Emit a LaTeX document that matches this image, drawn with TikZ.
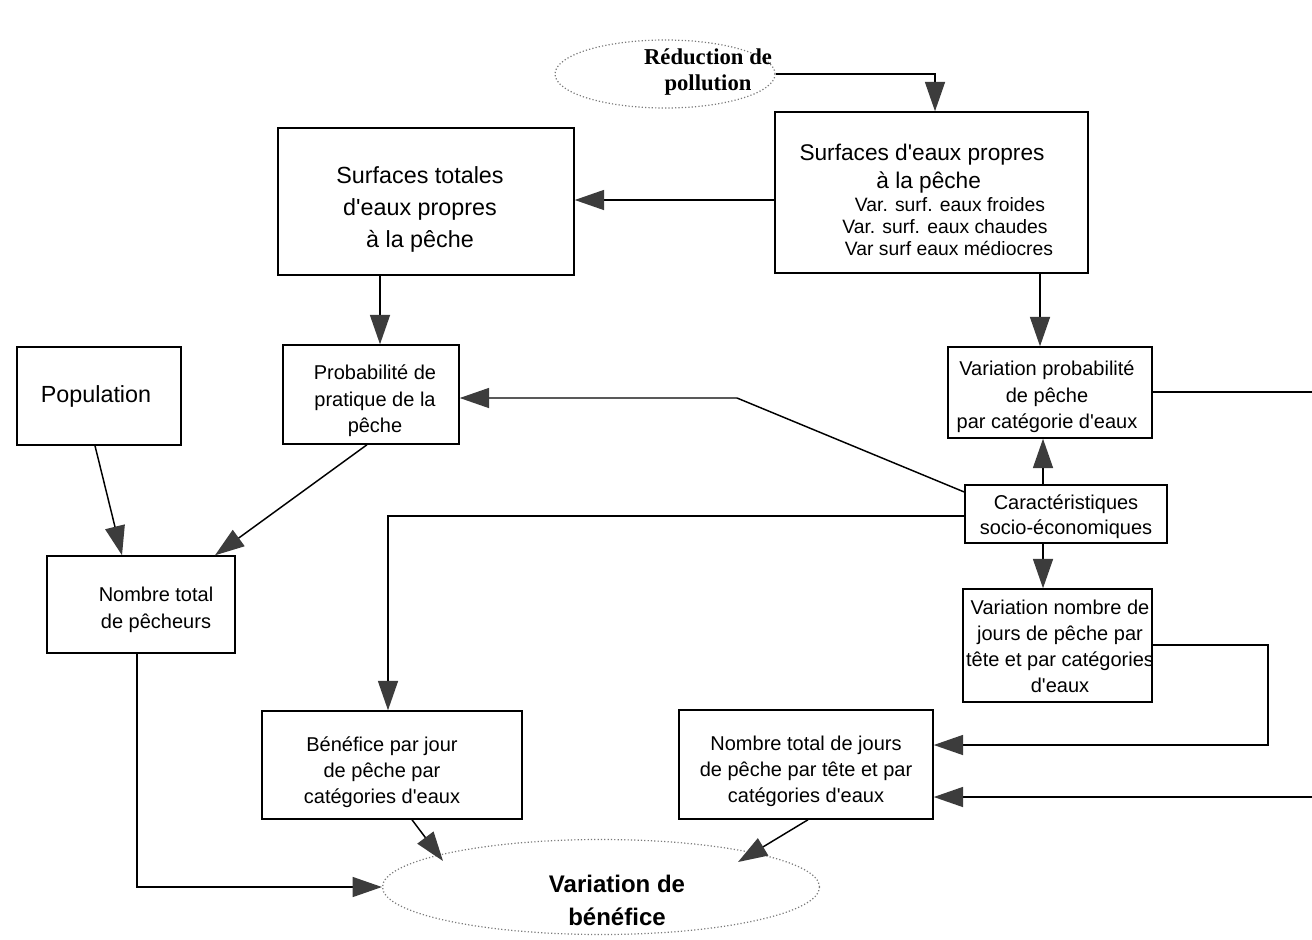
\documentclass[tikz,border=0pt]{standalone}
\usepackage{fontspec}
\setmainfont{Liberation Sans}[Ligatures=TeXOff]
\newfontfamily\seriff{Liberation Serif}[Ligatures=TeXOff]
\usetikzlibrary{arrows.meta,calc,shapes.geometric}
\definecolor{tipgray}{HTML}{3C3C3C}
\definecolor{dotgray}{HTML}{7A7A7A}
\begin{document}
\begin{tikzpicture}[x=0.75pt,y=-0.75pt,
  box/.style={draw, line width=1.1pt, rectangle, inner sep=0pt},
  oval/.style={draw=dotgray, ellipse, inner sep=0pt, line width=0.9pt, dash pattern=on 0.9pt off 1.6pt},
  arr/.style={line width=1.1pt, -{Triangle[length=22pt,width=15pt,color=tipgray]}},
  txt/.style={align=center, inner sep=0pt},
  small/.style={txt, font=\fontsize{15}{20}\selectfont},
]
\fill[white] (0,0) rectangle (1312,939);
\useasboundingbox (0,0) rectangle (1312,939);

% shapes
\node[oval, minimum width=165pt, minimum height=51pt] (red) at (665,74) {};
\node[txt, font=\seriff\bfseries\fontsize{17}{20}\selectfont] (redt) at (708,72) {Réduction de\\pollution};

\node[box, minimum width=234.75pt, minimum height=120.75pt] (sp) at (931.5,192.5) {};
\node[txt, font=\fontsize{17}{21}\selectfont] (spt) at (922,169) {Surfaces d'eaux propres\\\hspace*{10pt}à la pêche};
\node[txt, font=\fontsize{14.5}{16.5}\selectfont] (spv) at (945,227) {\hspace*{7.5pt}Var. surf. eaux froides\\Var. surf. eaux chaudes\hspace*{12pt}\\\hspace*{6pt}Var surf eaux médiocres};

\node[box, minimum width=222pt, minimum height=110.25pt] (st) at (426,201.5) {};
\node[txt, font=\fontsize{17.5}{24}\selectfont] (stt) at (420,209) {Surfaces totales\\d'eaux propres\\à la pêche};

\node[box, minimum width=123pt, minimum height=73.5pt] (pop) at (99,396) {};
\node[txt, font=\fontsize{17.5}{21}\selectfont] (popt) at (96,396) {Population};

\node[box, minimum width=132pt, minimum height=74.25pt] (prob) at (371,394.5) {};
\node[small] (probt) at (375,401) {Probabilité de\\pratique de la\\pêche};

\node[box, minimum width=153pt, minimum height=68.25pt] (vprob) at (1050,392.5) {};
\node[small] (vprobt) at (1047,397) {Variation probabilité\\de pêche\\par catégorie d'eaux};

\node[box, minimum width=151.5pt, minimum height=43.5pt] (carac) at (1066,514) {};
\node[txt, font=\fontsize{15}{19}\selectfont] (caract) at (1066,517) {Caractéristiques\\socio-économiques};

\node[box, minimum width=141pt, minimum height=72.75pt] (ntp) at (141,604.5) {};
\node[small] (ntpt) at (156,610) {Nombre total\\de pêcheurs};

\node[box, minimum width=141.75pt, minimum height=84.75pt] (vnj) at (1057.5,645.5) {};
\node[txt, font=\fontsize{15}{19.5}\selectfont] (vnjt) at (1060,646) {Variation nombre de\\jours de pêche par\\tête et par catégories\\d'eaux};

\node[box, minimum width=195pt, minimum height=81pt] (bpj) at (392,765) {};
\node[txt, font=\fontsize{15}{19.5}\selectfont] (bpjt) at (382,772) {Bénéfice par jour\\de pêche par\\catégories d'eaux};

\node[box, minimum width=190.5pt, minimum height=81.75pt] (ntj) at (806,764.5) {};
\node[txt, font=\fontsize{15}{19.5}\selectfont] (ntjt) at (806,771) {Nombre total de jours\\de pêche par tête et par\\catégories d'eaux};

\node[oval, minimum width=327.75pt, minimum height=71.25pt] (vb) at (601,887) {};
\node[txt, font=\bfseries\fontsize{18}{24.75}\selectfont] (vbt) at (617,900) {Variation de\\bénéfice};

% connectors
\draw[arr] (red.east) -| ($(sp.north)+(3.5,0)$);
\draw[arr] (sp.west |- 0,200) -- (st.east |- 0,200);
\draw[arr] (st.south -| 380,0) -- (prob.north -| 380,0);
\draw[arr] (sp.south -| 1040,0) -- (vprob.north -| 1040,0);
\draw[arr] (pop.south -| 95,0) -- (ntp.north -| 122,0);
\draw[arr] (prob.south -| 367,0) -- (ntp.north -| 215,0);
\coordinate (k1) at (737,398);
\draw[arr] (carac.west |- 0,492) -- (k1) -- (prob.east |- 0,398);
\draw[arr] (carac.north -| 1043,0) -- (vprob.south -| 1043,0);
\draw[arr] (carac.west |- 0,516) -| (bpj.north -| 388,0);
\draw[arr] (carac.south -| 1043,0) -- (vnj.north -| 1043,0);
\coordinate (k2) at (1268,745);
\draw[arr] (vnj.east |- 0,645) -| (k2) -- (ntj.east |- 0,745);
\coordinate (k3) at (1315,797);
\draw[arr] (vprob.east |- 0,392) -| (k3) -- (ntj.east |- 0,797);
\draw[arr] (ntp.south -| 137,0) |- (vb.west);
\coordinate (e1) at (443,861);
\draw[arr] (bpj.south -| 412,0) -- (e1);
\coordinate (e2) at (738,862);
\draw[arr] (ntj.south -| 808,0) -- (e2);
\end{tikzpicture}
\end{document}
